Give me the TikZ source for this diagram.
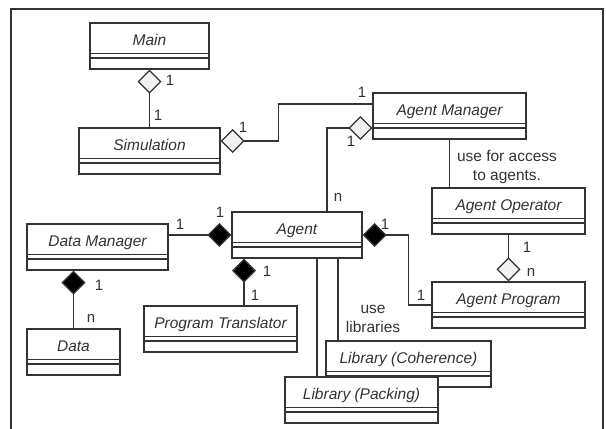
\documentclass[tikz,border=0pt]{standalone}
\usepackage{fontspec}
\setmainfont{Liberation Sans}
\usetikzlibrary{arrows.meta}
\definecolor{umlline}{HTML}{333333}
\definecolor{umltext}{HTML}{333333}
\definecolor{aggfill}{HTML}{F2F2F2}
\begin{document}
\begin{tikzpicture}[x=1pt,y=-1pt,line width=1.3pt,
  every node/.style={font=\fontsize{15.5}{19}\selectfont,text=umltext},
  cls/.style={draw=umlline,fill=white,minimum width=#1,inner xsep=0pt,inner ysep=0pt,
    text height=22.5pt,text depth=23.5pt,font=\fontsize{15.5}{19}\selectfont\itshape,
    path picture={\draw[umlline] ([yshift=-30.5pt]path picture bounding box.north west) -- ([yshift=-30.5pt]path picture bounding box.north east);
      \draw[umlline] ([yshift=-35pt]path picture bounding box.north west) -- ([yshift=-35pt]path picture bounding box.north east);}},
  mult/.style={font=\fontsize{15}{17}\selectfont,inner sep=0pt},
  note/.style={align=center,inner sep=0pt},
  assoc/.style={draw=umlline},
  agg/.style={assoc,{Diamond[length=24pt,width=24pt,fill=aggfill]}-},
  comp/.style={assoc,{Diamond[length=24pt,width=24pt,fill=black]}-}]
\useasboundingbox (0,0) rectangle (606,429);
\draw[umlline,line width=2pt] (11,429) -- (11,9) -- (603,9) -- (603,429);
% classes
\node[cls=119pt] (main) at (149.5,46) {Main}; \node[cls=141pt] (sim) at (149.5,151) {Simulation};
\node[cls=153pt] (am) at (449.5,116) {Agent Manager}; \node[cls=153pt] (ao) at (508.5,211) {Agent Operator};
\node[cls=130pt] (agent) at (297,235) {Agent}; \node[cls=141pt] (dm) at (97.5,247) {Data Manager};
\node[cls=93pt] (data) at (73.5,352) {Data}; \node[cls=153pt] (pt) at (220.5,329) {Program Translator};
\node[cls=153pt] (ap) at (508.5,305) {Agent Program};
\node[cls=165pt] (libc) at (408.5,364) {Library (Coherence)}; \node[cls=153pt] (libp) at (361.5,400) {Library (Packing)};
% aggregation
\draw[agg] (main) -- (sim);
\draw[agg] ([yshift=10pt]sim.east) -- ++(58,0) |- ([yshift=12pt]am.west);
\draw[agg] ([yshift=-12pt]am.west) -| ([xshift=30pt]agent.north);
\draw[agg] (ap) -- (ao);
% composition
\draw[comp] (agent.west) -- (agent.west -| dm.east);
\draw[comp] (dm.south -| data.north) -- (data.north);
\draw[comp] ([xshift=-53pt]agent.south) -- ([xshift=-53pt]agent.south |- pt.north);
\draw[comp] (agent.east) -- ++(46,0) |- (ap.west);
% usage
\draw[assoc] (am.south) -- (am.south |- ao.north);
\draw[assoc] ([xshift=20pt]agent.south) -- ([xshift=20pt]agent.south |- libp.north);
\draw[assoc] ([xshift=41pt]agent.south) -- ([xshift=41pt]agent.south |- libc.north);
\node[note] (access) at (507,167) {use for access\\to agents.};
\node[note] (uselib) at (373,319) {use\\libraries};
% multiplicities
\node[mult] (m1) at (170,80) {1}; \node[mult] (m2) at (158,115) {1};
\node[mult] (m3) at (243,127) {1}; \node[mult] (m4) at (362,92) {1};
\node[mult] (m5) at (351,141) {1}; \node[mult] (m6) at (338,197) {n};
\node[mult] (m7) at (180,224) {1}; \node[mult] (m8) at (220,212) {1};
\node[mult] (m9) at (99,285) {1}; \node[mult] (m10) at (91,318) {n};
\node[mult] (m11) at (267,271) {1}; \node[mult] (m12) at (255,295) {1};
\node[mult] (m13) at (385,224) {1}; \node[mult] (m14) at (421,295) {1};
\node[mult] (m15) at (527,247) {1}; \node[mult] (m16) at (531,272) {n};
\end{tikzpicture}
\end{document}
